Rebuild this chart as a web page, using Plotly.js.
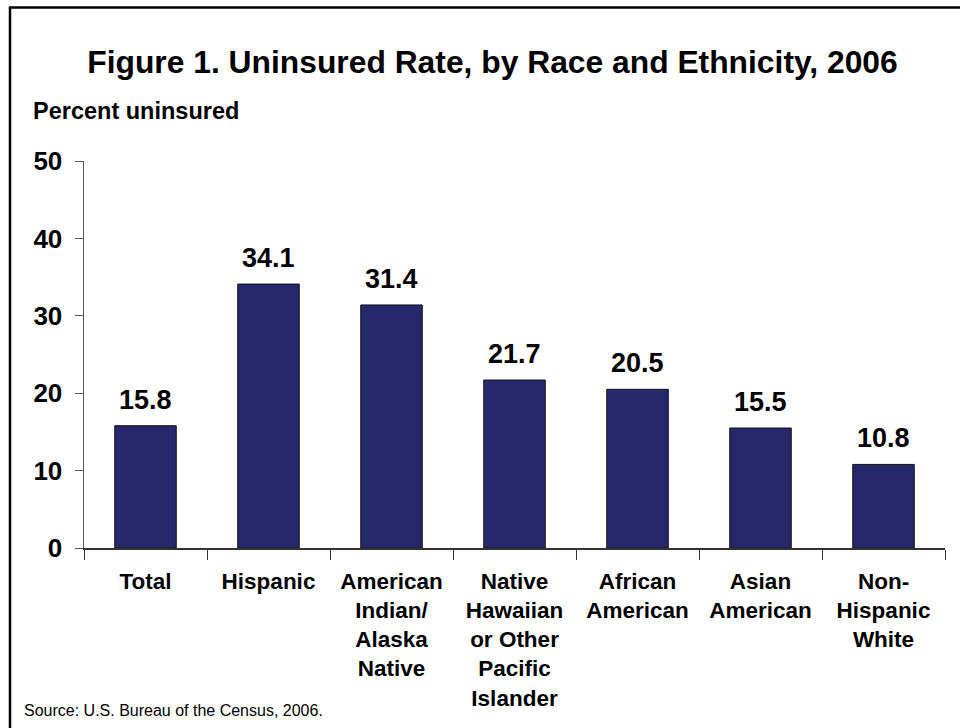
<!DOCTYPE html>
<html>
<head>
<meta charset="utf-8">
<script src="https://cdn.plot.ly/plotly-3.0.1.min.js"></script>
<style>
  html, body { margin: 0; padding: 0; background: #fff; }
  #chart { width: 960px; height: 728px; }
</style>
</head>
<body>
<div id="chart"></div>
<script>
const categories = ["Total", "Hispanic", "American Indian/Alaska Native", "Native Hawaiian or Other Pacific Islander", "African American", "Asian American", "Non-Hispanic White"];
const tickLabels = ["Total", "Hispanic", "American<br>Indian/<br>Alaska<br>Native", "Native<br>Hawaiian<br>or Other<br>Pacific<br>Islander", "African<br>American", "Asian<br>American", "Non-<br>Hispanic<br>White"];
const uninsuredRate = [15.8, 34.1, 31.4, 21.7, 20.5, 15.5, 10.8];
const yTickVals = [0, 10, 20, 30, 40, 50];

const FONT = '"Liberation Sans", Arial, sans-serif';

const trace = {
  type: 'bar',
  x: categories,
  y: uninsuredRate,
  width: 0.5,
  marker: { color: '#27276C', line: { color: '#111111', width: 1 } },
  hoverinfo: 'x+y'
};

const valueLabels = categories.map((c, i) => ({
  x: c, y: uninsuredRate[i], xref: 'x', yref: 'y',
  text: '<b>' + uninsuredRate[i].toFixed(1) + '</b>',
  showarrow: false, yanchor: 'bottom', yshift: 9,
  font: { family: FONT, size: 27, color: '#000' }
}));

const layout = {
  width: 960, height: 728,
  margin: { l: 84, r: 15, t: 161, b: 180 },
  paper_bgcolor: '#fff', plot_bgcolor: '#fff',
  showlegend: false,
  font: { family: FONT, color: '#000' },
  title: {
    text: '<b>Figure 1. Uninsured Rate, by Race and Ethnicity, 2006</b>',
    font: { family: FONT, size: 31.8, color: '#000' },
    x: 0.513, xanchor: 'center', y: 0.915, yanchor: 'middle'
  },
  xaxis: {
    type: 'category',
    tickmode: 'array', tickvals: categories, ticktext: tickLabels.map(t => '<b>' + t + '</b>'),
    tickson: 'boundaries',
    ticks: 'outside', ticklen: 10, tickcolor: '#333', tickwidth: 1,
    showline: true, linecolor: '#333', linewidth: 1.5,
    showgrid: false, zeroline: false,
    ticklabelstandoff: 12,
    tickfont: { family: FONT, size: 22.5, color: '#000' },
    range: [-0.5, 6.5], fixedrange: true
  },
  yaxis: {
    range: [0, 50],
    tickmode: 'array', tickvals: yTickVals, ticktext: yTickVals.map(v => '<b>' + v + '</b>'),
    ticks: 'outside', ticklen: 8, tickcolor: '#555', tickwidth: 1,
    showline: true, linecolor: '#555', linewidth: 1.5,
    showgrid: false, zeroline: false,
    ticklabelstandoff: 7,
    tickfont: { family: FONT, size: 26, color: '#000' },
    fixedrange: true
  },
  annotations: valueLabels.concat([
    {
      text: '<b>Percent uninsured</b>', xref: 'paper', yref: 'paper',
      x: (31 - 84) / 861, y: (548 - 111) / 387, xanchor: 'left', yanchor: 'middle',
      showarrow: false, font: { family: FONT, size: 23.5, color: '#000' }
    },
    {
      text: 'Source: U.S. Bureau of the Census, 2006.', xref: 'paper', yref: 'paper',
      x: (22 - 84) / 861, y: (548 - 710) / 387, xanchor: 'left', yanchor: 'middle',
      showarrow: false, font: { family: FONT, size: 16, color: '#000' }
    }
  ]),
  shapes: [
    { type: 'line', xref: 'paper', yref: 'paper', x0: (10 - 84) / 861, x1: (962 - 84) / 861,
      y0: (548 - 7.5) / 387, y1: (548 - 7.5) / 387, line: { color: '#000', width: 2.5 } },
    { type: 'line', xref: 'paper', yref: 'paper', x0: (10 - 84) / 861, x1: (10 - 84) / 861,
      y0: (548 - 6.5) / 387, y1: (548 - 730) / 387, line: { color: '#000', width: 2.5 } }
  ]
};

Plotly.newPlot('chart', [trace], layout, { displayModeBar: false, staticPlot: true });
</script>
</body>
</html>
